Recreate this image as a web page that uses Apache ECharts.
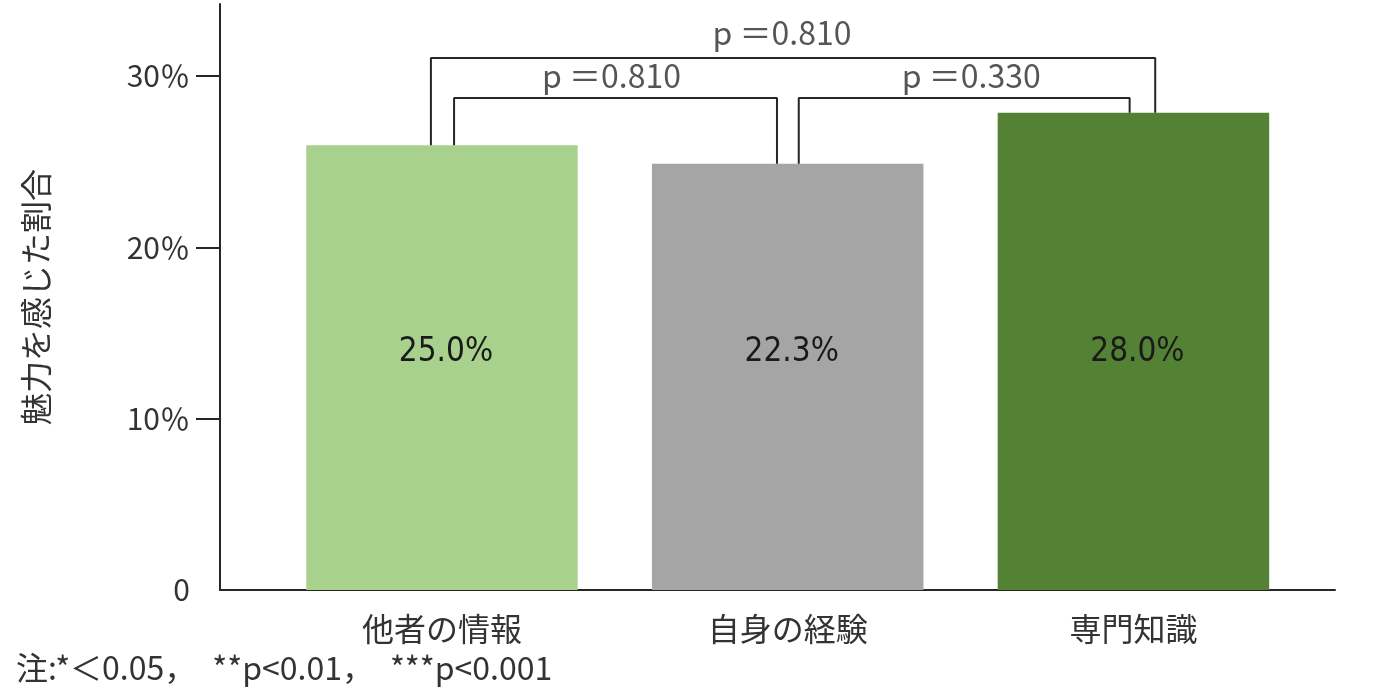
<!DOCTYPE html>
<html><head><meta charset="utf-8">
<script src="https://cdn.jsdelivr.net/npm/echarts@6/dist/echarts.min.js"></script>
<style>html,body{margin:0;padding:0;background:#fff}#c{width:1379px;height:699px}</style>
</head><body><div id="c"></div>
<script>
const categories = ['他者の情報', '自身の経験', '専門知識'];
const barHeights = [25.95, 24.87, 27.86];
const barLabels = ['25.0%', '22.3%', '28.0%'];
const barColors = ['#A9D18E', '#A5A5A5', '#548235'];
const yTickValues = [0, 10, 20, 30];
const yTickLabels = ['0', '10％', '20％', '30％'];
const bracketPairs = [[0, 1], [1, 2], [0, 2]];
const bracketLevels = [28.72, 28.72, 31.05];
const bracketLegOffsets = [[0.035, -0.031], [0.032, -0.011], [-0.032, 0.063]];
const pValueLabels = ['p ＝0.810', 'p ＝0.330', 'p ＝0.810'];
const yAxisName = '魅力を感じた割合';
const footnote = '注:*＜0.05，　**p<0.01，　***p<0.001';

const FONT = "'Noto Sans CJK JP', 'Noto Sans', sans-serif";
const TEXT = '#333333';
const LINE = '#262626';
// label placement styling (pixels)
const pLabelShift = [[-4, 0], [7, 0], [-11, 0]];
const pLabelDistance = [6, 6, 9];

const chart = echarts.init(document.getElementById('c'), null, {renderer: 'canvas'});

const series = [];
series.push({
  type: 'bar',
  barWidth: 271.5,
  data: barHeights.map((v, i) => ({value: [i, v], itemStyle: {color: barColors[i]}})),
  label: {
    show: true,
    position: 'insideBottom',
    distance: 238,
    offset: [4, 0],
    verticalAlign: 'middle',
    formatter: p => barLabels[p.dataIndex],
    fontFamily: "'Liberation Sans Narrow', 'DejaVu Sans Condensed', sans-serif",
    fontSize: 33,
    color: '#1a1a1a'
  },
  silent: true
});

bracketPairs.forEach((pair, k) => {
  const [a, b] = pair;
  const xl = a + bracketLegOffsets[k][0];
  const xr = b + bracketLegOffsets[k][1];
  const lv = bracketLevels[k];
  series.push({
    type: 'line',
    data: [[xl, barHeights[a]], [xl, lv], [xr, lv], [xr, barHeights[b]]],
    symbol: 'none',
    lineStyle: {color: LINE, width: 2},
    silent: true,
    z: 5
  });
  series.push({
    type: 'scatter',
    data: [[(xl + xr) / 2, lv]],
    symbolSize: 0,
    label: {
      show: true,
      position: 'top',
      distance: pLabelDistance[k],
      offset: pLabelShift[k],
      formatter: () => pValueLabels[k],
      fontFamily: FONT,
      fontSize: 32,
      color: '#2a2a2a'
    },
    silent: true
  });
});

chart.setOption({
  animation: false,
  backgroundColor: '#ffffff',
  grid: {left: 220, right: 44, top: 4, bottom: 109, containLabel: false, outerBoundsMode: 'none'},
  xAxis: {
    type: 'value',
    min: -0.642,
    max: 2.583,
    splitLine: {show: false},
    axisTick: {show: false},
    axisLine: {show: true, onZero: false, lineStyle: {color: LINE, width: 2}},
    axisLabel: {
      customValues: [0, 1, 2],
      formatter: v => categories[Math.round(v)] || '',
      fontFamily: FONT,
      fontSize: 32,
      color: TEXT,
      margin: 23
    }
  },
  yAxis: {
    type: 'value',
    min: 0,
    max: 34.2,
    interval: 10,
    splitLine: {show: false},
    axisLine: {show: true, onZero: false, lineStyle: {color: LINE, width: 2}},
    axisTick: {show: true, length: 24, customValues: [10, 20, 30], lineStyle: {color: LINE, width: 2}},
    axisLabel: {
      customValues: yTickValues,
      formatter: v => yTickLabels[yTickValues.indexOf(v)],
      fontFamily: FONT,
      fontSize: 30,
      color: TEXT,
      margin: 30
    },
    name: yAxisName,
    nameLocation: 'middle',
    nameRotate: 90,
    nameGap: 168,
    nameTextStyle: {fontFamily: FONT, fontSize: 32, color: TEXT}
  },
  graphic: [{
    type: 'text',
    left: 16,
    top: 652,
    style: {text: footnote, font: "32px 'Noto Sans CJK JP', sans-serif", fill: TEXT}
  }],
  series: series
});
</script>
</body></html>
